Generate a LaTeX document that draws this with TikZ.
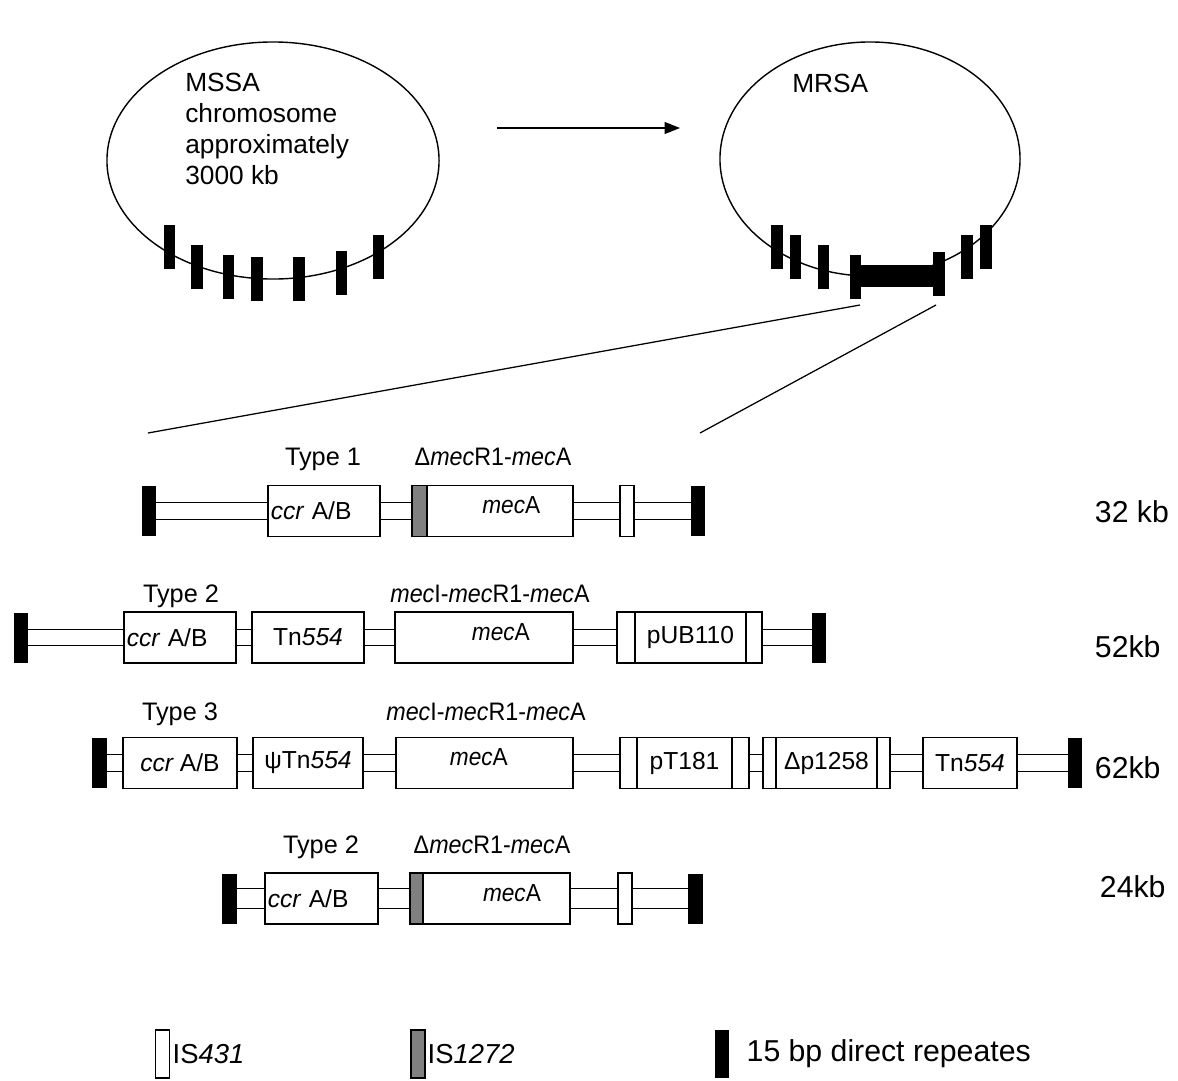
\documentclass[tikz,border=0pt]{standalone}
\usepackage{fontspec}
\setmainfont{Liberation Sans}
\newfontfamily\narrowfont[FakeStretch=0.92]{Liberation Sans}
\usetikzlibrary{arrows.meta,shapes.geometric}
\definecolor{ISGray}{HTML}{808080}

\begin{document}
\begin{tikzpicture}[x=0.025cm,y=-0.025cm,font=\fontsize{17.5}{22}\selectfont,
    chrom/.style={draw,ellipse,line width=1pt,minimum width=8.3cm,minimum height=5.925cm},
    repbar/.style={fill=black,inner sep=0pt,minimum width=0.28cm,minimum height=1.1cm},
    dr/.style={fill=black,inner sep=0pt,minimum width=0.36cm,minimum height=1.25cm},
    gene/.style={draw,fill=white,line width=0.8pt,inner sep=2pt,minimum height=1.275cm},
    ccrbox/.style={gene,text width=75.7pt,align=left},
    isw/.style={gene,inner sep=0pt},
    isg/.style={gene,fill=ISGray,inner sep=0pt},
    link/.style={draw,line width=0.8pt,double,double distance=10.8pt},
    toplbl/.style={anchor=base,font=\fontsize{18}{22}\selectfont},
    meclbl/.style={anchor=base,font=\narrowfont\fontsize{18}{22}\selectfont},
    mectxt/.style={font=\narrowfont\fontsize{17.5}{22}\selectfont},
    kblbl/.style={anchor=base west,font=\fontsize{21.5}{26}\selectfont},
  ]
  \useasboundingbox (0,0) rectangle (1178,1080);

  % chromosomes
  \node[chrom] (mssa) at (273,160.5) {};
  \node[chrom,minimum width=7.5cm,minimum height=5.85cm] (mrsa) at (870,159) {};
  \node[anchor=north west,align=left,inner sep=0pt,font=\fontsize{18.7}{22}\selectfont]
    (mssatxt) at (185,73) {MSSA\\chromosome\\approximately\\3000 kb};
  \node[anchor=base west,inner sep=0pt,font=\fontsize{18.7}{22}\selectfont]
    (mrsatxt) at (792,92) {MRSA};

  \foreach \x/\y [count=\i] in {169.5/247,197/267,228.5/277,257/279,299/279,341.5/272.5,378.5/257}
    \node[repbar] (s\i) at (\x,\y) {};
  \foreach \x/\y [count=\i] in {777/247,795.5/257,823.5/267,967/257,986/247}
    \node[repbar] (r\i) at (\x,\y) {};
  \node[repbar] (insl) at (855.5,277) {};
  \node[repbar] (insr) at (939,273.5) {};
  \node[fill=black,inner sep=0pt,minimum width=1.8cm,minimum height=0.55cm] (ins) at (897,276) {};

  \coordinate (a0) at (497,128);
  \coordinate (a1) at (680,128);
  \draw[-{Triangle[length=11pt,width=8.5pt]},line width=0.9pt] (a0) -- (a1);

  \coordinate (z1) at (860,305);
  \coordinate (z2) at (936,305);
  \coordinate (e1) at (148,433);
  \coordinate (e2) at (700,433);
  \draw[line width=0.9pt] (z1) -- (e1);
  \draw[line width=0.9pt] (z2) -- (e2);

  % Type 1, 32 kb
  \node[dr] (l1) at (149,511) {};
  \node[ccrbox] (ccr1) at (324,511) {{\itshape ccr} A/B};
  \node[isg,minimum width=0.375cm] (g1) at (419.5,511) {};
  \node[gene,minimum width=3.65cm,
        label={[xshift=8pt,yshift=4pt,mectxt]center:\textit{mec}A}] (mec1) at (500,511) {};
  \node[isw,minimum width=0.35cm] (is1) at (627,511) {};
  \node[dr] (rt1) at (698,511) {};
  \draw[link] (l1) -- (ccr1);
  \draw[link] (ccr1) -- (g1);
  \draw[link] (mec1) -- (is1);
  \draw[link] (is1) -- (rt1);
  \node[toplbl] (ty1) at (323,465) {Type 1};
  \node[meclbl] (lb1) at (493,465) {Δ\textit{mec}R1-\textit{mec}A};
  \node[kblbl] (kb1) at (1090,522) {32 kb};

  % Type 2, 52 kb
  \node[dr] (l2) at (21,637.5) {};
  \node[ccrbox] (ccr2) at (180,637.5) {{\itshape ccr} A/B};
  \node[gene,minimum width=2.8cm] (tn2) at (308,637.5) {Tn\textit{554}};
  \node[gene,minimum width=4.45cm,
        label={[xshift=12pt,yshift=4pt,mectxt]center:\textit{mec}A}] (mec2) at (484,637.5) {};
  \node[isw,minimum width=0.45cm] (isa2) at (626,637.5) {};
  \node[gene,minimum width=2.775cm] (pub) at (690.5,637.5) {pUB110};
  \node[isw,minimum width=0.4cm] (isb2) at (754,637.5) {};
  \node[dr] (rt2) at (819,637.5) {};
  \draw[link] (l2) -- (ccr2);
  \draw[link] (ccr2) -- (tn2);
  \draw[link] (tn2) -- (mec2);
  \draw[link] (mec2) -- (isa2);
  \draw[link] (isb2) -- (rt2);
  \node[toplbl] (ty2) at (181,602) {Type 2};
  \node[meclbl] (lb2) at (490,602) {\textit{mec}I-\textit{mec}R1-\textit{mec}A};
  \node[kblbl] (kb2) at (1090,657) {52kb};

  % Type 3, 62 kb
  \node[dr] (l3) at (99.5,763) {};
  \node[gene,minimum width=2.85cm] (ccr3) at (180,763) {{\itshape ccr} A/B};
  \node[gene,minimum width=2.75cm] (psi) at (308,763) {ψTn\textit{554}};
  \node[gene,minimum width=4.425cm,
        label={[xshift=-4pt,yshift=4pt,mectxt]center:\textit{mec}A}] (mec3) at (484.5,763) {};
  \node[isw,minimum width=0.425cm] (isa3) at (628.5,763) {};
  \node[gene,minimum width=2.375cm] (pt) at (684.5,763) {pT181};
  \node[isw,minimum width=0.425cm] (isb3) at (740.5,763) {};
  \node[isw,minimum width=0.325cm] (isc3) at (769.5,763) {};
  \node[gene,minimum width=2.525cm] (dp) at (826.5,763) {Δp1258};
  \node[isw,minimum width=0.325cm] (isd3) at (883.5,763) {};
  \node[gene,minimum width=2.35cm] (tn3) at (970,763) {Tn\textit{554}};
  \node[dr] (rt3) at (1075,763) {};
  \draw[link] (l3) -- (ccr3);
  \draw[link] (ccr3) -- (psi);
  \draw[link] (psi) -- (mec3);
  \draw[link] (mec3) -- (isa3);
  \draw[link] (isb3) -- (isc3);
  \draw[link] (isd3) -- (tn3);
  \draw[link] (tn3) -- (rt3);
  \node[toplbl] (ty3) at (180,720) {Type 3};
  \node[meclbl] (lb3) at (486,720) {\textit{mec}I-\textit{mec}R1-\textit{mec}A};
  \node[kblbl] (kb3) at (1090,778) {62kb};

  % Type 2, 24 kb
  \node[dr] (l4) at (229.5,898.5) {};
  \node[ccrbox,text width=76.4pt] (ccr4) at (321.5,898.5) {{\itshape ccr} A/B};
  \node[isg,minimum width=0.325cm] (g4) at (416.5,898.5) {};
  \node[gene,minimum width=3.675cm,
        label={[xshift=11pt,yshift=4pt,mectxt]center:\textit{mec}A}] (mec4) at (496.5,898.5) {};
  \node[isw,minimum width=0.35cm] (is4) at (625,898.5) {};
  \node[dr] (rt4) at (695.5,898.5) {};
  \draw[link,double distance=13pt] (l4) -- (ccr4);
  \draw[link,double distance=13pt] (ccr4) -- (g4);
  \draw[link,double distance=13pt] (mec4) -- (is4);
  \draw[link,double distance=13pt] (is4) -- (rt4);
  \node[toplbl] (ty4) at (321,853) {Type 2};
  \node[meclbl] (lb4) at (492,853) {Δ\textit{mec}R1-\textit{mec}A};
  \node[kblbl] (kb4) at (1095,897) {24kb};

  % legend
  \node[isw,minimum width=0.35cm,minimum height=1.2cm] (lg1) at (162.5,1054) {};
  \node[anchor=base west,inner sep=1pt,font=\fontsize{19.5}{22}\selectfont]
    (lt1) at (171,1063) {IS\textit{431}};
  \node[isg,minimum width=0.35cm,minimum height=1.2cm] (lg2) at (418,1054) {};
  \node[anchor=base west,inner sep=1pt,font=\fontsize{19.5}{22}\selectfont]
    (lt2) at (426,1063) {IS\textit{1272}};
  \node[dr,minimum height=1.2cm] (lg3) at (722,1054) {};
  \node[anchor=base west,inner sep=1pt,font=\fontsize{21.5}{26}\selectfont]
    (lt3) at (745,1061) {15 bp direct repeates};
\end{tikzpicture}
\end{document}
